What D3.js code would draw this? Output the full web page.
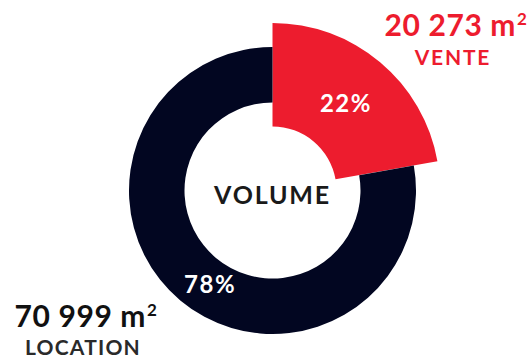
<!DOCTYPE html>
<html><head><meta charset="utf-8">
<script src="https://cdn.jsdelivr.net/npm/d3@7"></script>
<style>html,body{margin:0;padding:0;background:#fff;}svg{display:block;}</style>
</head><body>
<svg id="c" width="528" height="358"></svg>
<script>
const categories = ["VENTE", "LOCATION"];
const values = [20273, 70999];
const percentLabels = ["22%", "78%"];
const amountLabels = ["20 273 m", "70 999 m"];
const colors = ["#ed1c2e", "#020621"];
const centerLabel = "VOLUME";

const svg = d3.select("#c");
const cx = 272.5, cy = 190.5;
const font = "Lato, 'Open Sans', sans-serif";

const pie = d3.pie().sort(null).value(d => d)(values);
const radii = [{inner: 64, outer: 167.5}, {inner: 88, outer: 143.5}];
// label placement (radius, angle in radians clockwise from 12 o'clock)
const labelPolar = [{r: 114, a: 0.70}, {r: 113, a: 3.727}];

const g = svg.append("g").attr("transform", `translate(${cx},${cy})`);
g.selectAll("path").data(pie).join("path")
  .attr("d", (d, i) => d3.arc().innerRadius(radii[i].inner).outerRadius(radii[i].outer)(d))
  .attr("fill", (d, i) => colors[i]);

g.selectAll("text.pct").data(pie).join("text")
  .attr("class", "pct")
  .attr("transform", (d, i) => {
    const p = labelPolar[i];
    return `translate(${Math.sin(p.a) * p.r},${-Math.cos(p.a) * p.r})`;
  })
  .attr("text-anchor", "middle").attr("dy", "0.36em")
  .attr("fill", "#fff").attr("font-family", font).attr("font-weight", 700)
  .attr("font-size", 24).attr("letter-spacing", 1.5)
  .text((d, i) => percentLabels[i]);

g.append("text").attr("text-anchor", "middle").attr("y", 13).attr("x", 0)
  .attr("fill", "#1a1a1a").attr("font-family", font).attr("font-weight", 700)
  .attr("font-size", 25).attr("letter-spacing", 1.8).text(centerLabel);

function amount(x, y, txt, color) {
  const t = svg.append("text").attr("x", x).attr("y", y).attr("text-anchor", "middle")
    .attr("fill", color).attr("font-family", font).attr("font-weight", 700)
    .attr("font-size", 30).attr("letter-spacing", 0.6);
  t.append("tspan").text(txt);
  t.append("tspan").attr("dy", -11).attr("dx", 1).attr("font-size", 17).text("2");
}
amount(456, 36, amountLabels[0], colors[0]);
svg.append("text").attr("x", 453).attr("y", 65).attr("text-anchor", "middle")
  .attr("fill", colors[0]).attr("font-family", font).attr("font-weight", 700)
  .attr("font-size", 21).attr("letter-spacing", 1.8).text(categories[0]);

amount(86, 327, amountLabels[1], "#111");
svg.append("text").attr("x", 83).attr("y", 355).attr("text-anchor", "middle")
  .attr("fill", "#2a2a2a").attr("font-family", font).attr("font-weight", 700)
  .attr("font-size", 21).attr("letter-spacing", 1.2).text(categories[1]);
</script>
</body></html>
